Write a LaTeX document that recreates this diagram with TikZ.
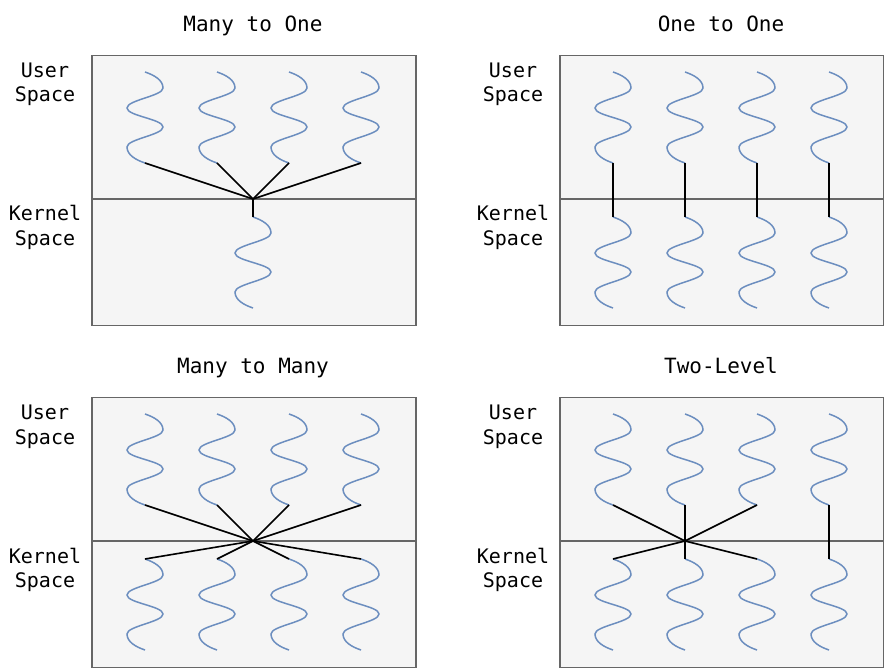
\documentclass[tikz,border=0pt]{standalone}
\usepackage{fontspec}
\newfontfamily\monofont{DejaVu Sans Mono}
\definecolor{boxfill}{HTML}{F5F5F5}
\definecolor{boxline}{HTML}{666666}
\definecolor{wavecol}{HTML}{6C8EBF}
\tikzset{
  panel/.style={draw=boxline, fill=boxfill, line width=1.5pt, minimum width=324pt, minimum height=270pt, anchor=north west, inner sep=0pt},
  divider/.style={draw=boxline, line width=1.5pt},
  wv/.style={draw=wavecol, line width=1.5pt},
  link/.style={draw=black, line width=1.6pt},
  ttl/.style={font=\monofont\fontsize{21}{25}\selectfont, anchor=base, inner sep=0pt},
  lbl/.style={font=\monofont\fontsize{20}{24}\selectfont, anchor=base, inner sep=0pt},
}
\newcommand\Wave[3]{%
  \begin{scope}[shift={(#2,#3)}]
    \draw[wv] (0,0) .. controls (9,3) and (18,8) .. (18,16)
      .. controls (18,24) and (-18,28) .. (-18,36)
      .. controls (-18,44) and (18,47) .. (18,55)
      .. controls (18,63) and (-18,67) .. (-18,75)
      .. controls (-18,83) and (-9,88) .. (0,91);
    \coordinate (#1t) at (0,0);
    \coordinate (#1b) at (0,91);
  \end{scope}}
\begin{document}
\begin{tikzpicture}[x=1pt,y=-1pt]
\useasboundingbox (0,0) rectangle (884,668);
% panels
\node[panel] (A) at (91,55) {};
\node[panel] (B) at (559,55) {};
\node[panel] (C) at (91,397) {};
\node[panel] (D) at (559,397) {};
\draw[divider] (91,199) -- (415,199);
\draw[divider] (559,199) -- (883,199);
\draw[divider] (91,541) -- (415,541);
\draw[divider] (559,541) -- (883,541);
% titles
\node[ttl] (tA) at (253,31.5) {Many to One};
\node[ttl] (tB) at (721,31.5) {One to One};
\node[ttl] (tC) at (253,373.5) {Many to Many};
\node[ttl] (tD) at (721,373.5) {Two-Level};
% side labels
\node[lbl] (uA) at (45,77.5) {User};
\node[lbl] (sA) at (45,102) {Space};
\node[lbl] (kA) at (45,221) {Kernel};
\node[lbl] (ksA) at (45,245.5) {Space};
\node[lbl] (uB) at (513,77.5) {User};
\node[lbl] (sB) at (513,102) {Space};
\node[lbl] (kB) at (513,221) {Kernel};
\node[lbl] (ksB) at (513,245.5) {Space};
\node[lbl] (uC) at (45,419.5) {User};
\node[lbl] (sC) at (45,444) {Space};
\node[lbl] (kC) at (45,563) {Kernel};
\node[lbl] (ksC) at (45,587.5) {Space};
\node[lbl] (uD) at (513,419.5) {User};
\node[lbl] (sD) at (513,444) {Space};
\node[lbl] (kD) at (513,563) {Kernel};
\node[lbl] (ksD) at (513,587.5) {Space};
% ---- Many to One
\Wave{a1}{145}{72}\Wave{a2}{217}{72}\Wave{a3}{289}{72}\Wave{a4}{361}{72}
\Wave{a5}{253}{217}
\coordinate (ac) at (253,199);
\foreach \i in {1,2,3,4} {\draw[link] (a\i b) -- (ac);}
\draw[link] (ac) -- (a5t);
% ---- One to One
\Wave{b1}{613}{72}\Wave{b2}{685}{72}\Wave{b3}{757}{72}\Wave{b4}{829}{72}
\Wave{b5}{613}{217}\Wave{b6}{685}{217}\Wave{b7}{757}{217}\Wave{b8}{829}{217}
\draw[link] (b1b) -- (b5t);
\draw[link] (b2b) -- (b6t);
\draw[link] (b3b) -- (b7t);
\draw[link] (b4b) -- (b8t);
% ---- Many to Many
\Wave{c1}{145}{414}\Wave{c2}{217}{414}\Wave{c3}{289}{414}\Wave{c4}{361}{414}
\Wave{c5}{145}{559}\Wave{c6}{217}{559}\Wave{c7}{289}{559}\Wave{c8}{361}{559}
\coordinate (cc) at (253,541);
\foreach \i in {1,2,3,4} {\draw[link] (c\i b) -- (cc);}
\foreach \i in {5,6,7,8} {\draw[link] (cc) -- (c\i t);}
% ---- Two-Level
\Wave{d1}{613}{414}\Wave{d2}{685}{414}\Wave{d3}{757}{414}\Wave{d4}{829}{414}
\Wave{d5}{613}{559}\Wave{d6}{685}{559}\Wave{d7}{757}{559}\Wave{d8}{829}{559}
\coordinate (dc) at (685,541);
\foreach \i in {1,2,3} {\draw[link] (d\i b) -- (dc);}
\foreach \i in {5,6,7} {\draw[link] (dc) -- (d\i t);}
\draw[link] (d4b) -- (d8t);
\end{tikzpicture}
\end{document}
